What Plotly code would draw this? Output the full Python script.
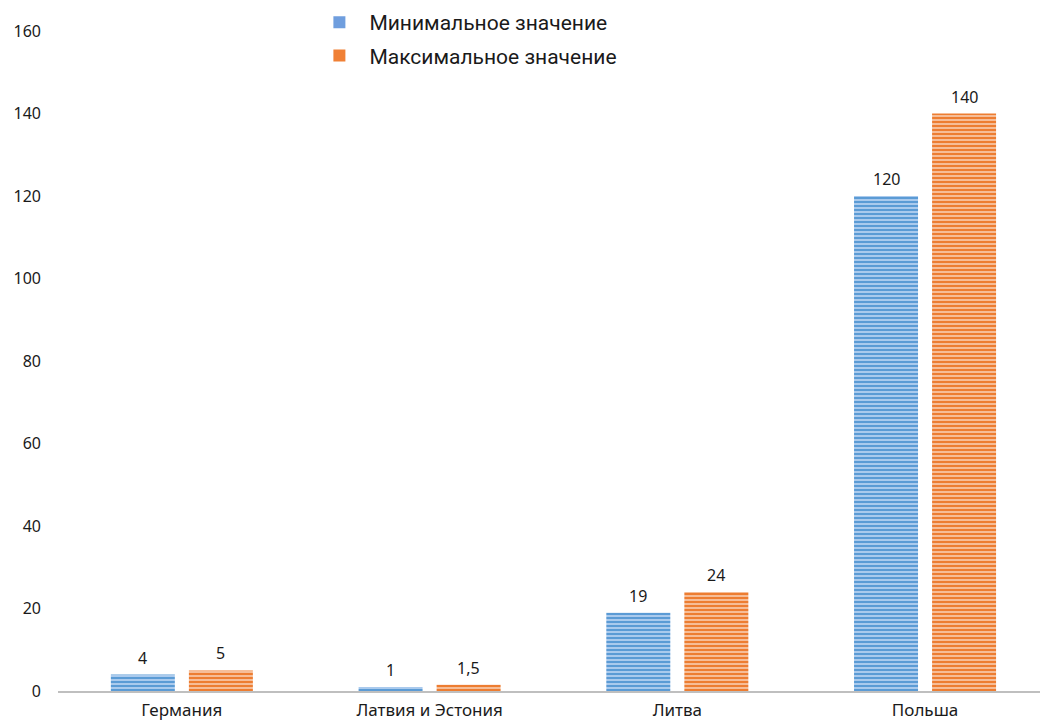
import plotly.graph_objects as go

categories = ["Германия", "Латвия и Эстония", "Литва", "Польша"]
min_values = [4, 1, 19, 120]
max_values = [5, 1.5, 24, 140]
series_names = ["Минимальное значение", "Максимальное значение"]
y_ticks = [0, 20, 40, 60, 80, 100, 120, 140, 160]

def fmt(v):
    s = ("%g" % v)
    return s.replace(".", ",")

fig = go.Figure()
styles = [
    dict(fg="#5b9bd5", bg="#b3cff0", legend="#6f9ede", shift=-39),
    dict(fg="#ed7d31", bg="#f7c4a2", legend="#f08035", shift=39),
]
for name, vals, st in zip(series_names, [min_values, max_values], styles):
    fig.add_trace(go.Bar(
        x=categories, y=vals, name=name, showlegend=False,
        marker=dict(color=st["bg"], line=dict(width=0),
                    pattern=dict(shape="-", fgcolor=st["fg"], bgcolor=st["bg"],
                                 size=4, solidity=0.55, fillmode="replace")),
    ))
    for c, v in zip(categories, vals):
        fig.add_annotation(x=c, y=v, text=fmt(v), showarrow=False,
                           xref="x", yref="y", xshift=st["shift"], yshift=4,
                           yanchor="bottom", xanchor="center",
                           font=dict(family="Noto Sans", size=16, color="#1a1a1a"))
for i, (name, st) in enumerate(zip(series_names, styles)):
    fig.add_trace(go.Scatter(x=[None], y=[None], name=name, mode="markers",
                             legendgroup="g%d" % i, showlegend=True,
                             marker=dict(symbol="square", size=18, color=st["legend"])))

# plot area height 691 px; 160 sits 31 px below the top
y_top = 160 + 31 * 160 / 660

fig.update_layout(
    width=1040, height=722,
    margin=dict(l=58, r=0, t=0, b=31),
    plot_bgcolor="white", paper_bgcolor="white",
    barmode="group", bargap=0.37, bargroupgap=0.18,
    font=dict(family="Noto Sans", size=16, color="#1a1a1a"),
    legend=dict(x=0.256, y=0.997, xanchor="left", yanchor="top",
                orientation="v", font=dict(family="Roboto", size=21, color="#1a1a1a"),
                bgcolor="rgba(0,0,0,0)", itemsizing="constant", tracegroupgap=3,
                itemwidth=50),
    xaxis=dict(range=[-0.5, 3.464], showline=True, linecolor="#bfbfbf", linewidth=2,
               showgrid=False, ticks="", ticklabelstandoff=3, automargin=False,
               tickfont=dict(family="Noto Sans", size=17)),
    yaxis=dict(range=[0, y_top], tickvals=y_ticks, showgrid=False, zeroline=False,
               showline=False, ticks="", ticklabelstandoff=16, automargin=False,
               tickfont=dict(family="Noto Sans", size=16)),
)
fig.write_html("out.html", config={"displayModeBar": False},
               post_script="document.body.style.margin='0';")
